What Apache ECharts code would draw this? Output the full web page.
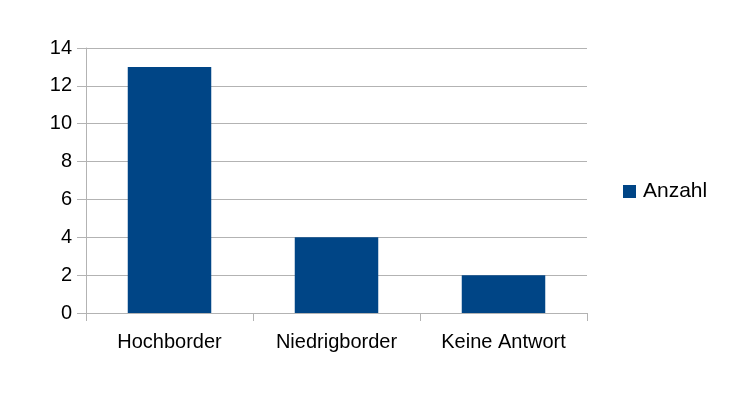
<!DOCTYPE html>
<html style="height: 100%">
    <head>
        <meta charset="utf-8" />
    </head>
    <body style="height: 100%; margin: 0; background: #fff">
        <div id="container" style="width: 741px; height: 407px"></div>

        <script src="https://cdn.jsdelivr.net/npm/echarts@6/dist/echarts.min.js"></script>

        <script type="text/javascript">
            var categories = ['Hochborder', 'Niedrigborder', 'Keine Antwort'];
            var seriesName = 'Anzahl';
            var values = [13, 4, 2];

            var myChart = echarts.init(document.getElementById('container'), null, {
                renderer: 'canvas'
            });

            var axisColor = '#b3b3b3';
            var font = 'Liberation Sans, Arial, sans-serif';

            var option = {
                animation: false,
                backgroundColor: '#fff',
                grid: {
                    left: 86,
                    right: 154,
                    top: 48,
                    bottom: 94
                },
                legend: {
                    data: [seriesName],
                    orient: 'vertical',
                    left: 623,
                    top: 181,
                    padding: 0,
                    icon: 'rect',
                    itemWidth: 13,
                    itemHeight: 13,
                    itemGap: 7,
                    textStyle: {
                        fontFamily: font,
                        fontSize: 21,
                        color: '#000',
                        padding: [0, 0, 0, 2]
                    }
                },
                xAxis: {
                    type: 'category',
                    data: categories,
                    axisLine: { lineStyle: { color: axisColor } },
                    axisTick: {
                        show: true,
                        length: 8,
                        lineStyle: { color: axisColor }
                    },
                    axisLabel: {
                        fontFamily: font,
                        fontSize: 20,
                        color: '#000',
                        margin: 19
                    }
                },
                yAxis: {
                    type: 'value',
                    min: 0,
                    max: 14,
                    interval: 2,
                    axisLine: { show: true, lineStyle: { color: axisColor } },
                    axisTick: {
                        show: true,
                        length: 9,
                        lineStyle: { color: axisColor }
                    },
                    splitLine: { lineStyle: { color: axisColor } },
                    axisLabel: {
                        fontFamily: font,
                        fontSize: 20,
                        color: '#000',
                        margin: 14
                    }
                },
                series: [
                    {
                        name: seriesName,
                        type: 'bar',
                        data: values,
                        barWidth: '50%',
                        itemStyle: { color: '#004586' }
                    }
                ]
            };

            myChart.setOption(option);
            window.addEventListener('resize', myChart.resize);
        </script>
    </body>
</html>
